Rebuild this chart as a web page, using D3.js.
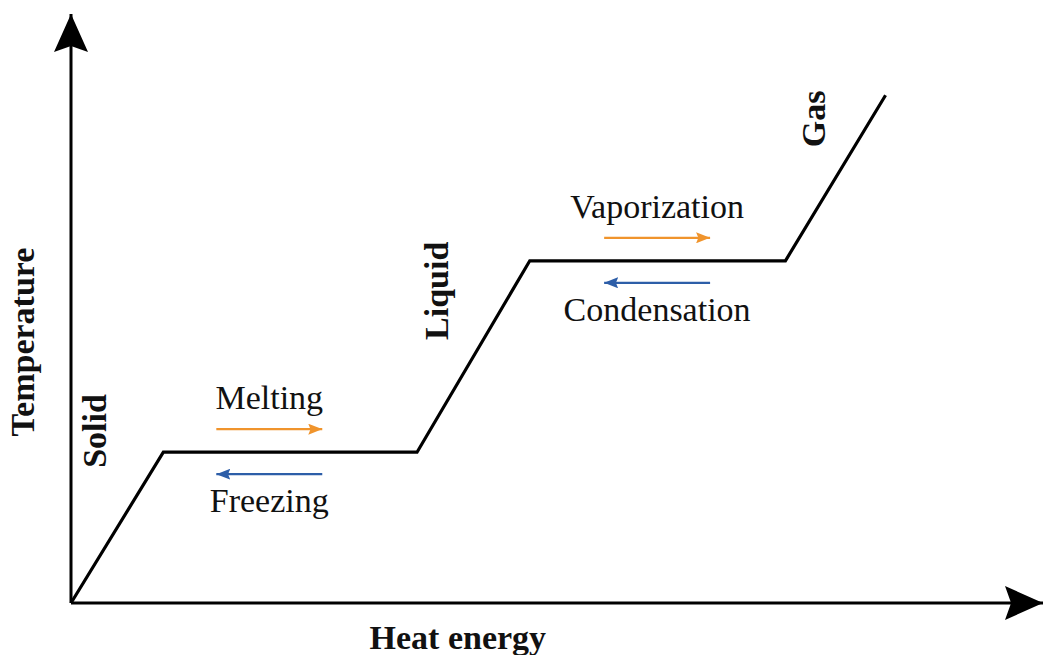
<!DOCTYPE html>
<html>
<head>
<meta charset="utf-8">
<script src="https://cdn.jsdelivr.net/npm/d3@7"></script>
<style>
  html, body { margin: 0; padding: 0; background: #fff; }
  svg { display: block; }
  text { font-family: "Liberation Serif", "Times New Roman", serif; fill: #111; }
</style>
</head>
<body>
<svg id="chart" width="1045" height="655"></svg>
<script>
// Heating curve: heat energy added vs temperature (arbitrary units)
const heatEnergy  = [0, 9.5, 35.6, 47.2, 73.5, 83.8];
const temperature = [0, 25.6, 25.6, 58.1, 58.1, 86.2];

// Phase labels written along the rising segments
const phaseNames   = ["Solid", "Liquid", "Gas"];
const phaseHeat    = [3.6, 38.8, 77.6];
const phaseTemp    = [29.2, 53.0, 82.2];

// Phase-change processes on each plateau
const forwardNames = ["Melting", "Vaporization"];
const reverseNames = ["Freezing", "Condensation"];
const plateauMid   = [20.4, 60.3];
const plateauTemp  = [25.6, 58.1];

const axisTitles = { x: "Heat energy", y: "Temperature" };
const colorForward = "#f0942c";
const colorReverse = "#2d5ea8";

const svg = d3.select("#chart");
const x = d3.scaleLinear().domain([0, 100]).range([71, 1043]);
const y = d3.scaleLinear().domain([0, 100]).range([603, 14]);

// Arrowhead markers for the axes and the process arrows
const defs = svg.append("defs");
function marker(id, color, w, h) {
  defs.append("marker")
    .attr("id", id)
    .attr("viewBox", `0 0 ${w} ${h}`)
    .attr("refX", w).attr("refY", h / 2)
    .attr("markerWidth", w).attr("markerHeight", h)
    .attr("markerUnits", "userSpaceOnUse")
    .attr("orient", "auto")
    .append("path")
    .attr("d", `M0,0 L${w},${h / 2} L0,${h} L${w * 0.16},${h / 2} Z`)
    .attr("fill", color);
}
marker("axisHead", "#000", 38, 34);
marker("headFwd", colorForward, 14, 11);
marker("headRev", colorReverse, 14, 11);

// Axes drawn as arrows from the origin
svg.append("line")
  .attr("x1", x(0)).attr("y1", y(0))
  .attr("x2", x(0)).attr("y2", y(100))
  .attr("stroke", "#000").attr("stroke-width", 3)
  .attr("marker-end", "url(#axisHead)");
svg.append("line")
  .attr("x1", x(0)).attr("y1", y(0))
  .attr("x2", x(100)).attr("y2", y(0))
  .attr("stroke", "#000").attr("stroke-width", 3)
  .attr("marker-end", "url(#axisHead)");

// Heating curve
const points = heatEnergy.map((h, i) => [h, temperature[i]]);
svg.append("path")
  .datum(points)
  .attr("d", d3.line().x(d => x(d[0])).y(d => y(d[1])))
  .attr("fill", "none")
  .attr("stroke", "#000")
  .attr("stroke-width", 3.2)
  .attr("stroke-linejoin", "miter");

// Axis titles
svg.append("text")
  .attr("x", x(39.8)).attr("y", 649)
  .attr("text-anchor", "middle")
  .attr("font-size", 34).attr("font-weight", "bold")
  .text(axisTitles.x);
svg.append("text")
  .attr("transform", `translate(34,${y(44.3)}) rotate(-90)`)
  .attr("text-anchor", "middle")
  .attr("font-size", 34).attr("font-weight", "bold")
  .text(axisTitles.y);

// Phase labels
svg.selectAll("text.phase")
  .data(phaseNames)
  .join("text")
  .attr("class", "phase")
  .attr("transform", (d, i) => `translate(${x(phaseHeat[i])},${y(phaseTemp[i])}) rotate(-90)`)
  .attr("text-anchor", "middle")
  .attr("font-size", 34).attr("font-weight", "bold")
  .text(d => d);

// Process labels and arrows on each plateau
const arrowHalf = 5.45;
forwardNames.forEach((name, i) => {
  const cx = x(plateauMid[i]);
  const py = y(plateauTemp[i]);
  svg.append("text")
    .attr("x", cx).attr("y", py - 43)
    .attr("text-anchor", "middle")
    .attr("font-size", 34)
    .text(name);
  svg.append("line")
    .attr("x1", x(plateauMid[i] - arrowHalf)).attr("x2", x(plateauMid[i] + arrowHalf))
    .attr("y1", py - 23).attr("y2", py - 23)
    .attr("stroke", colorForward).attr("stroke-width", 2.2)
    .attr("marker-end", "url(#headFwd)");
  svg.append("line")
    .attr("x1", x(plateauMid[i] + arrowHalf)).attr("x2", x(plateauMid[i] - arrowHalf))
    .attr("y1", py + 22).attr("y2", py + 22)
    .attr("stroke", colorReverse).attr("stroke-width", 2.2)
    .attr("marker-end", "url(#headRev)");
  svg.append("text")
    .attr("x", cx).attr("y", py + 60)
    .attr("text-anchor", "middle")
    .attr("font-size", 34)
    .text(reverseNames[i]);
});
</script>
</body>
</html>
